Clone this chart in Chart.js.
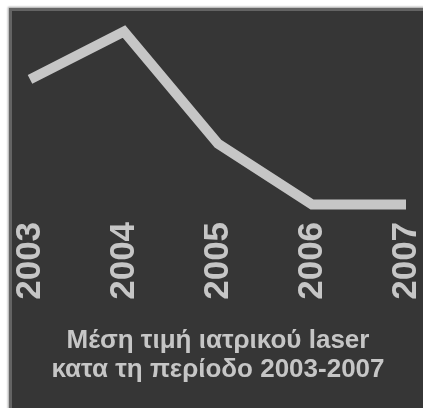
<!DOCTYPE html>
<html>
<head>
<meta charset="utf-8">
<script src="https://cdn.jsdelivr.net/npm/chart.js@4.4.1/dist/chart.umd.min.js"></script>
<style>
  html, body { margin: 0; padding: 0; background: #ffffff; }
  #panel {
    position: absolute; left: 9px; top: 8px; width: 420px; height: 410px;
    background: #363636;
    border-left: 3px solid #646464; border-top: 3px solid #646464;
    box-shadow: -1px -1px 2px #a0a0a0;
  }
  #wrap { position: absolute; left: 0; top: 0; width: 423px; height: 408px; }
</style>
</head>
<body>
<div id="panel"></div>
<div id="wrap"><canvas id="myChart"></canvas></div>
<script>
var anni = ['2003', '2004', '2005', '2006', '2007'];
var prezzi = [71, 97, 36, 3, 3];
var titolo = ['Μέση τιμή ιατρικού laser', 'κατα τη περίοδο 2003-2007'];

var grigio = '#c6c6c6';

var ctx = document.getElementById('myChart');
var chart = new Chart(ctx, {
  type: 'line',
  data: {
    labels: anni,
    datasets: [{
      label: 'Μέση τιμή',
      data: prezzi,
      borderColor: grigio,
      borderWidth: 10,
      pointRadius: 0,
      tension: 0,
      fill: false,
      clip: false
    }]
  },
  options: {
    responsive: true,
    maintainAspectRatio: false,
    animation: false,
    layout: { padding: { left: 30, right: 17, top: 26, bottom: 24 } },
    plugins: {
      legend: { display: false },
      tooltip: { enabled: false },
      title: {
        display: true,
        position: 'bottom',
        text: titolo,
        color: grigio,
        font: { family: 'Liberation Sans, Arial, sans-serif', size: 26, weight: 'bold', lineHeight: 1.1 },
        padding: { top: 23, bottom: 0 }
      }
    },
    scales: {
      x: {
        offset: false,
        grid: { display: false },
        border: { display: false },
        // niente spazio extra ai lati per le etichette ruotate
        afterFit: function(scale) {
          scale.paddingLeft = 0;
          scale.paddingRight = 0;
        },
        ticks: {
          color: grigio,
          minRotation: 90,
          maxRotation: 90,
          padding: 4,
          font: { family: 'Liberation Sans, Arial, sans-serif', size: 35, weight: 'bold' }
        }
      },
      y: {
        display: false,
        min: 0,
        max: 100
      }
    }
  }
});
</script>
</body>
</html>
